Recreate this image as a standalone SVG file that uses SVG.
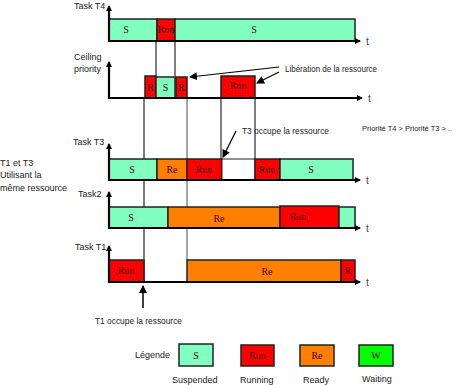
<svg xmlns="http://www.w3.org/2000/svg" width="459" height="385" viewBox="0 0 459 385">
<defs>
<marker id="ah" markerWidth="6" markerHeight="6" refX="5" refY="3" orient="auto" markerUnits="userSpaceOnUse"><path d="M0,0 L6,3 L0,6 Z" fill="#000"/></marker>
<marker id="ahs" markerWidth="8" markerHeight="8" refX="7" refY="4" orient="auto" markerUnits="userSpaceOnUse"><path d="M0,0 L8,4 L0,8 Z" fill="#000"/></marker>
</defs>
<style>
.lbl{font-family:"Liberation Sans",Arial,sans-serif;font-size:9px;fill:#222}
.bt{font-family:"Liberation Serif","Times New Roman",serif;font-size:10px;fill:#400;text-anchor:middle}
.s{fill:#80ffc0;stroke:#222;stroke-width:1.5}
.r{fill:#ff0000;stroke:#222;stroke-width:1.5}
.o{fill:#ff8000;stroke:#222;stroke-width:1.5}
.w{fill:#00ff00;stroke:#222;stroke-width:1.5}
.e{fill:#fff;stroke:#222;stroke-width:1}
.ax{stroke:#000;stroke-width:2.2;fill:none}
.vl{stroke:#000;stroke-width:1;fill:none}
.vg{stroke:#888;stroke-width:1.5;fill:none}
.t{font-family:"Liberation Sans",Arial,sans-serif;font-size:10px;fill:#444}
</style>
<g id="connectors">
<line class="vl" x1="156" y1="41" x2="156" y2="76"/>
<line class="vl" x1="175" y1="41" x2="175" y2="76"/>
<line class="vl" x1="144" y1="98" x2="144" y2="282"/>
<line class="vg" x1="187" y1="98" x2="187" y2="260"/>
<line class="vl" x1="221" y1="98" x2="221" y2="159"/>
<line class="vl" x1="255" y1="98" x2="255" y2="159"/>
<line stroke="#000" stroke-width="1.2" x1="279" y1="67" x2="190" y2="77" marker-end="url(#ahs)"/>
<line stroke="#000" stroke-width="1.2" x1="279" y1="72" x2="257" y2="83" marker-end="url(#ahs)"/>
<line stroke="#000" stroke-width="1.2" x1="236" y1="131" x2="223" y2="157" marker-end="url(#ahs)"/>
<line stroke="#000" stroke-width="1.5" x1="143" y1="308" x2="143" y2="286" marker-end="url(#ahs)"/>
</g>
<g id="task4">
<text class="lbl" x="74" y="9">Task T4</text>
<rect class="s" x="109" y="19" width="48" height="22"/>
<rect class="r" x="157" y="19" width="18" height="22"/>
<rect class="s" x="175" y="19" width="180" height="22"/>
<text class="bt" x="126" y="33">S</text>
<text class="bt" x="166" y="33">Run</text>
<text class="bt" x="254" y="33">S</text>
<line class="ax" x1="109" y1="42" x2="109" y2="6" marker-end="url(#ah)"/>
<line class="ax" x1="109" y1="41" x2="360" y2="41" marker-end="url(#ah)"/>
<text class="t" x="366" y="45">t</text>
</g>
<g id="ceiling">
<text class="lbl" x="74" y="60">Ceiling</text>
<text class="lbl" x="74" y="72">priority</text>
<rect class="r" x="145" y="76" width="11" height="22"/>
<rect class="s" x="156" y="77" width="19" height="21"/>
<rect class="r" x="176" y="77" width="11" height="21"/>
<rect class="r" x="221" y="76" width="34" height="22"/>
<text class="bt" x="150.5" y="91">R</text>
<text class="bt" x="165.5" y="91">S</text>
<text class="bt" x="181.5" y="91">R</text>
<text class="bt" x="238" y="89">Run</text>
<line class="ax" x1="109" y1="99" x2="109" y2="62" marker-end="url(#ah)"/>
<line class="ax" x1="109" y1="98" x2="362" y2="98" marker-end="url(#ah)"/>
<text class="t" x="368" y="102">t</text>
<text class="lbl" x="285" y="72" textLength="92" lengthAdjust="spacingAndGlyphs">Libération de la ressource</text>
</g>
<g id="notes">
<text class="lbl" x="362" y="131" style="font-size:7.5px">Priorité T4 &gt; Priorité T3 &gt; ..</text>
<text class="lbl" x="0" y="166">T1 et T3</text>
<text class="lbl" x="0" y="178">Utilisant la</text>
<text class="lbl" x="0" y="191">même ressource</text>
</g>
<g id="task3">
<text class="lbl" x="73" y="145">Task T3</text>
<rect class="s" x="109" y="159" width="48" height="21"/>
<rect class="o" x="157" y="159" width="30" height="21"/>
<rect class="r" x="187" y="159" width="35" height="21"/>
<rect class="e" x="222" y="159" width="33" height="21" stroke="none"/>
<rect class="r" x="255" y="159" width="25" height="21"/>
<rect class="s" x="280" y="159" width="73" height="21"/>
<text class="bt" x="132" y="173">S</text>
<text class="bt" x="172" y="173">Re</text>
<text class="bt" x="204" y="173">Run</text>
<text class="bt" x="267" y="173">Run</text>
<text class="bt" x="311" y="173">S</text>
<line class="ax" x1="109" y1="181" x2="109" y2="144" marker-end="url(#ah)"/>
<line class="ax" x1="109" y1="180" x2="360" y2="180" marker-end="url(#ah)"/>
<text class="t" x="366" y="184">t</text>
<text class="lbl" x="242" y="134" textLength="87" lengthAdjust="spacingAndGlyphs">T3 occupe la ressource</text>
</g>
<g id="task2">
<text class="lbl" x="78" y="197">Task2</text>
<rect class="s" x="109" y="207" width="59" height="21"/>
<rect class="o" x="168" y="207" width="112" height="21"/>
<rect class="r" x="280" y="206" width="59" height="22"/>
<rect class="s" x="339" y="207" width="16" height="21"/>
<text class="bt" x="131" y="221">S</text>
<text class="bt" x="219" y="222">Re</text>
<text class="bt" x="298" y="220">Run</text>
<line class="ax" x1="109" y1="229" x2="109" y2="192" marker-end="url(#ah)"/>
<line class="ax" x1="109" y1="228" x2="360" y2="228" marker-end="url(#ah)"/>
<text class="t" x="366" y="232">t</text>
</g>
<g id="task1">
<text class="lbl" x="75" y="250">Task T1</text>
<rect class="r" x="109" y="260" width="35" height="22"/>
<rect class="o" x="187" y="260" width="154" height="22"/>
<rect class="r" x="341" y="260" width="14" height="22"/>
<text class="bt" x="126" y="274">Run</text>
<text class="bt" x="267" y="275">Re</text>
<text class="bt" x="348" y="274">R</text>
<line class="ax" x1="109" y1="283" x2="109" y2="246" marker-end="url(#ah)"/>
<line class="ax" x1="109" y1="282" x2="360" y2="282" marker-end="url(#ah)"/>
<text class="t" x="366" y="286">t</text>
<text class="lbl" x="95" y="324" textLength="87" lengthAdjust="spacingAndGlyphs">T1 occupe la ressource</text>
</g>
<g id="legend">
<text class="lbl" x="135" y="358">Légende</text>
<rect class="s" x="179" y="344" width="34" height="22"/>
<rect class="r" x="241" y="345" width="33" height="21"/>
<rect class="o" x="300" y="345" width="34" height="21"/>
<rect class="w" x="359" y="345" width="34" height="21"/>
<text class="bt" x="196" y="359">S</text>
<text class="bt" x="257.5" y="359">Run</text>
<text class="bt" x="317" y="359">Re</text>
<text class="bt" x="376" y="359">W</text>
<text class="lbl" x="172" y="383">Suspended</text>
<text class="lbl" x="240" y="383">Running</text>
<text class="lbl" x="303" y="383">Ready</text>
<text class="lbl" x="362" y="382">Waiting</text>
</g>
</svg>
